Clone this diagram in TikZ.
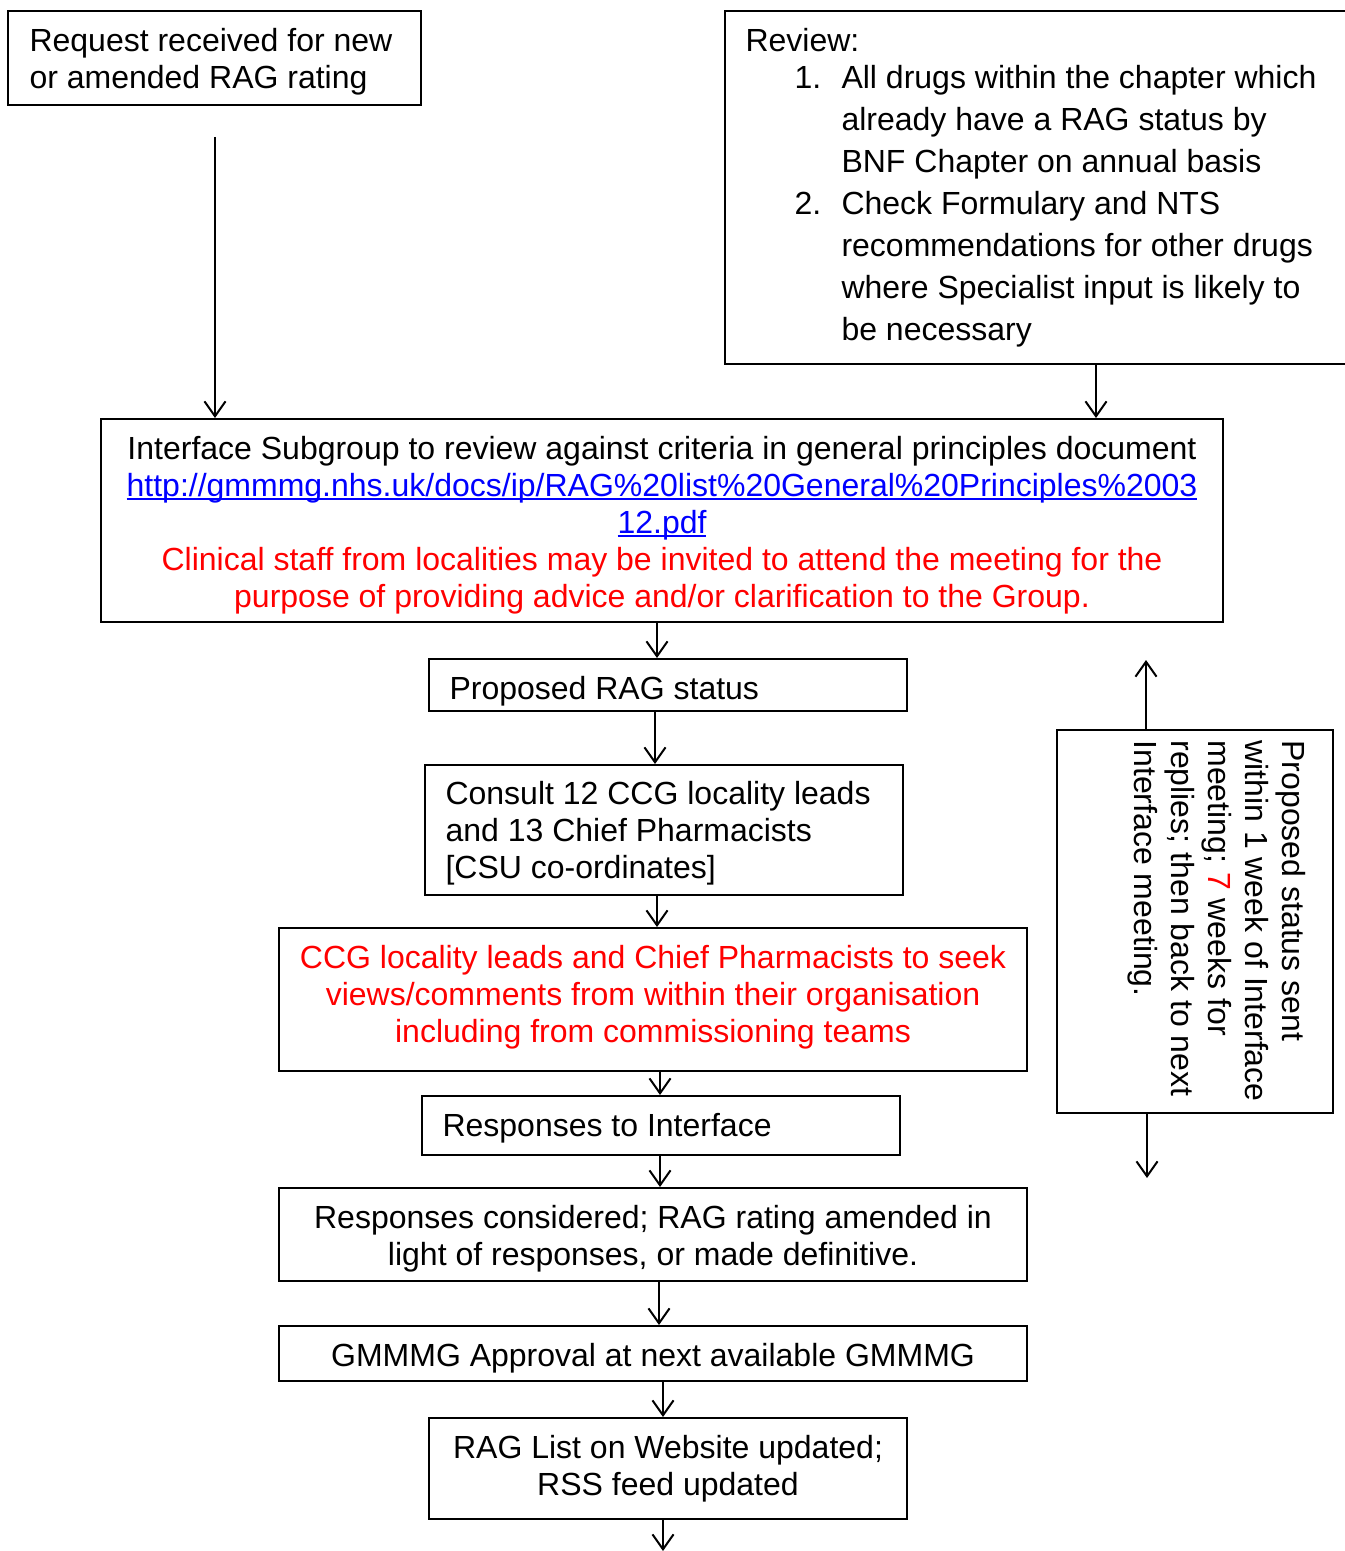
\documentclass[tikz,border=0pt]{standalone}
\usepackage{fontspec}
\setmainfont{Liberation Sans}
\usetikzlibrary{arrows.meta}
\newcommand\linkul[1]{\setbox0\hbox{#1}\rlap{\rule[-1.25pt]{\wd0}{0.85pt}}\box0}
\begin{document}
\begin{tikzpicture}[x=0.375pt,y=-0.375pt,
  every node/.style={font=\fontsize{12}{13.9}\selectfont},
  box/.style={draw, line width=0.75pt, inner sep=0pt},
  lbl/.style={anchor=west, align=left, inner sep=0pt},
  arr/.style={line width=0.75pt, -{Straight Barb[length=5.6pt,width=7.9pt]}}]
\useasboundingbox (0,0) rectangle (1344,1551);

% top-left request box
\node[box, minimum width=154.875pt, minimum height=35.25pt,
  label={[lbl, xshift=8.25pt, yshift=-1.5pt]west:{Request received for new\\or amended RAG rating}}] (req) at (214.5,58) {};

% review box (extends beyond right edge)
\node[box, minimum width=235.125pt, minimum height=132.375pt,
  label={[lbl, xshift=7.875pt, yshift=-0.1pt]west:{Review:\\
\hspace*{18.4pt}\makebox[17.6pt][l]{1.}All drugs within the chapter which\\[1.85pt]
\hspace*{36pt}already have a RAG status by\\[1.85pt]
\hspace*{36pt}BNF Chapter on annual basis\\[1.85pt]
\hspace*{18.4pt}\makebox[17.6pt][l]{2.}Check Formulary and NTS\\[1.85pt]
\hspace*{36pt}recommendations for other drugs\\[1.85pt]
\hspace*{36pt}where Specialist input is likely to\\[1.85pt]
\hspace*{36pt}be necessary}}] (rev) at (1038.5,187.5) {};

% interface subgroup box
\node[box, minimum width=420.75pt, minimum height=76.125pt,
  label={[align=center, inner sep=0pt, yshift=-1.9pt]center:{Interface Subgroup to review against criteria in general principles document\\
{\color{blue}\linkul{http://gmmmg.nhs.uk/docs/ip/RAG\%20list\%20General\%20Principles\%2003}}\\
{\color{blue}\linkul{12.pdf}}\\
{\color{red}Clinical staff from localities may be invited to attend the meeting for the}\\
{\color{red}purpose of providing advice and/or clarification to the Group.}}}] (intf) at (662,520.5) {};

% proposed RAG status
\node[box, minimum width=179.25pt, minimum height=19.5pt,
  label={[lbl, xshift=7.875pt, yshift=-2.2pt]west:{Proposed RAG status}}] (prop) at (668,685) {};

% consult
\node[box, minimum width=179.25pt, minimum height=48.75pt,
  label={[lbl, xshift=7.875pt, yshift=-1.1pt]west:{Consult 12 CCG locality leads\\and 13 Chief Pharmacists\\{[}CSU co-ordinates{]}}}] (cons) at (664,830) {};

% CCG red box
\node[box, minimum width=280.5pt, minimum height=53.625pt,
  label={[align=center, text=red, inner sep=0pt, yshift=0.8pt]center:{CCG locality leads and Chief Pharmacists to seek\\views/comments from within their organisation\\including from commissioning teams}}] (ccg) at (653,999.5) {};

% responses to interface
\node[box, minimum width=179.25pt, minimum height=22.125pt,
  label={[lbl, xshift=7.875pt, yshift=-1.1pt]west:{Responses to Interface}}] (resp) at (661,1125.5) {};

% responses considered
\node[box, minimum width=280.5pt, minimum height=34.875pt,
  label={[align=center, inner sep=0pt, yshift=-1.5pt]center:{Responses considered; RAG rating amended in\\light of responses, or made definitive.}}] (consid) at (653,1234.5) {};

% GMMMG approval
\node[box, minimum width=280.5pt, minimum height=20.625pt,
  label={[align=center, inner sep=0pt, yshift=-1.9pt]center:{GMMMG Approval at next available GMMMG}}] (gmmmg) at (653,1353.5) {};

% RAG list updated
\node[box, minimum width=179.25pt, minimum height=37.875pt, align=center] (ragl) at (668,1468.5)
{RAG List on Website updated;\\RSS feed updated};

% side box with rotated text
\node[box, minimum width=103.5pt, minimum height=143.625pt] (side) at (1195,921.5) {};
\node[rotate=-90, anchor=north west, align=left, inner sep=0pt] (sidetxt) at (1306,740)
{Proposed status sent\\within 1 week of Interface\\meeting; {\color{red}7} weeks for\\replies; then back to next\\Interface meeting.};

% connectors
\coordinate (reqend) at (215,137);
\draw[arr] (reqend) -- (215,0 |- intf.north);
\draw[arr] (1096,0 |- rev.south) -- (1096,0 |- intf.north);
\draw[arr] (657,0 |- intf.south) -- (657,0 |- prop.north);
\draw[arr] (655,0 |- prop.south) -- (655,0 |- cons.north);
\draw[arr] (657,0 |- cons.south) -- (657,0 |- ccg.north);
\draw[arr] (660,0 |- ccg.south) -- (660,0 |- resp.north);
\draw[arr] (660,0 |- resp.south) -- (660,0 |- consid.north);
\draw[arr] (659,0 |- consid.south) -- (659,0 |- gmmmg.north);
\draw[arr] (663,0 |- gmmmg.south) -- (663,0 |- ragl.north);
\coordinate (bottomend) at (663,1551);
\draw[arr] (663,0 |- ragl.south) -- (bottomend);
\coordinate (upend) at (1146,660);
\draw[arr] (1146,0 |- side.north) -- (upend);
\coordinate (downend) at (1147,1178);
\draw[arr] (1147,0 |- side.south) -- (downend);
\end{tikzpicture}
\end{document}
